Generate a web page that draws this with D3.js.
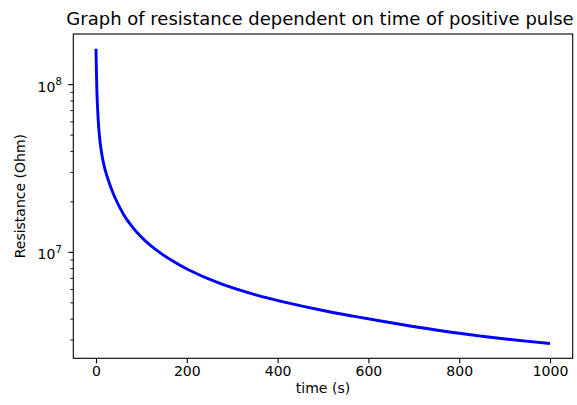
<!DOCTYPE html>
<html lang='en'>
<head>
   <meta charset='UTF-8'>
   <title>Resistance vs time</title>
   <script src='https://d3js.org/d3.v7.min.js'></script>
   <style>
      body { margin: 0; background: #fff; }
      svg { display: block; font-family: 'DejaVu Sans', sans-serif; }
   </style>
</head>
<body>
   <div id='chart'></div>
   <script>
      // values (time in s, resistance in Ohm)
      const times = [0, 2, 4, 6, 9, 14, 20, 30, 40, 52.8, 65, 80, 90, 104, 120, 140, 170, 200, 270, 350,
         420, 500, 566, 650, 771, 850, 918, 1000];
      const resistance = [1.626e8, 8.99e7, 6.76e7, 5.50e7, 4.52e7, 3.67e7, 3.09e7, 2.54e7, 2.16e7,
         1.83e7, 1.60e7, 1.41e7, 1.31e7, 1.196e7, 1.094e7, 9.93e6, 8.78e6, 7.91e6, 6.53e6, 5.56e6,
         4.98e6, 4.47e6, 4.14e6, 3.78e6, 3.35e6, 3.14e6, 2.99e6, 2.84e6];
      const xTicks = [0, 200, 400, 600, 800, 1000];
      const yMajor = [1e7, 1e8];
      const titleText = 'Graph of resistance dependent on time of positive pulse';
      const xLabelText = 'time (s)';
      const yLabelText = 'Resistance (Ohm)';

      const W = 577, H = 405;
      const margins = { top: 34, right: 4.3, bottom: 46.7, left: 73.3 };
      const width = W - margins.left - margins.right;
      const height = H - margins.top - margins.bottom;

      const data = times.map((t, i) => ({ t: t, r: resistance[i] }));

      const svg = d3.select('#chart').append('svg').attr('width', W).attr('height', H);
      const g = svg.append('g').attr('transform', `translate(${margins.left}, ${margins.top})`);

      // matplotlib style 5% margins (log space on y)
      const [tMin, tMax] = d3.extent(times);
      const tPad = (tMax - tMin) * 0.05;
      const x = d3.scaleLinear().domain([tMin - tPad, tMax + tPad]).range([0, width]);

      const [lo, hi] = d3.extent(resistance).map(Math.log10);
      const lPad = (hi - lo) * 0.05;
      const y = d3.scaleLog().domain([10 ** (lo - lPad), 10 ** (hi + lPad)]).range([height, 0]);

      // minor ticks on log axis
      const yMinor = [];
      for (let e = 5; e <= 9; e++) {
         for (let m = 2; m <= 9; m++) {
            const v = m * 10 ** e;
            if (v >= y.domain()[0] && v <= y.domain()[1]) yMinor.push(v);
         }
      }

      const tickColor = '#000';
      const fontSize = 14;

      // x axis
      const xAxis = g.append('g').attr('transform', `translate(0, ${height})`)
         .call(d3.axisBottom(x).tickValues(xTicks).tickSize(5).tickPadding(3).tickFormat(d3.format('d')));
      xAxis.select('.domain').remove();
      xAxis.selectAll('line').attr('stroke', tickColor).attr('stroke-width', 1.1);
      xAxis.selectAll('text').attr('font-size', fontSize).attr('font-family', 'DejaVu Sans').attr('fill', '#000');

      // y axis minor
      const yMin = g.append('g').call(d3.axisLeft(y).tickValues(yMinor).tickSize(3).tickFormat(''));
      yMin.select('.domain').remove();
      yMin.selectAll('line').attr('stroke', tickColor).attr('stroke-width', 0.9);

      // y axis major with 10^n labels
      const yMaj = g.append('g').call(d3.axisLeft(y).tickValues(yMajor).tickSize(5).tickFormat(''));
      yMaj.select('.domain').remove();
      yMaj.selectAll('line').attr('stroke', tickColor).attr('stroke-width', 1.1);
      yMajor.forEach(v => {
         const txt = g.append('text')
            .attr('x', -11.5)
            .attr('y', y(v) + 7.5)
            .attr('text-anchor', 'end')
            .attr('font-size', fontSize)
            .attr('fill', '#000');
         txt.append('tspan').text('10');
         txt.append('tspan').attr('font-size', 10).attr('dy', -6.3).text(Math.round(Math.log10(v)));
      });

      // spines
      g.append('rect').attr('x', 0).attr('y', 0).attr('width', width).attr('height', height)
         .attr('fill', 'none').attr('stroke', '#000').attr('stroke-width', 1.1);

      // the curve
      const line = d3.line().x(d => x(d.t)).y(d => y(d.r)).curve(d3.curveCatmullRom.alpha(0.5));
      g.append('path').datum(data)
         .attr('fill', 'none').attr('stroke', '#0000ff').attr('stroke-width', 2.9)
         .attr('d', line);

      // labels
      svg.append('text').attr('x', margins.left + width / 2 - 3).attr('y', 25)
         .attr('text-anchor', 'middle').attr('font-size', 18).attr('fill', '#000').text(titleText);
      svg.append('text').attr('x', margins.left + width / 2).attr('y', 393)
         .attr('text-anchor', 'middle').attr('font-size', fontSize).attr('fill', '#000').text(xLabelText);
      svg.append('text').attr('transform', `translate(25, ${margins.top + height / 2}) rotate(-90)`)
         .attr('text-anchor', 'middle').attr('font-size', fontSize).attr('fill', '#000').text(yLabelText);
   </script>
</body>
</html>
